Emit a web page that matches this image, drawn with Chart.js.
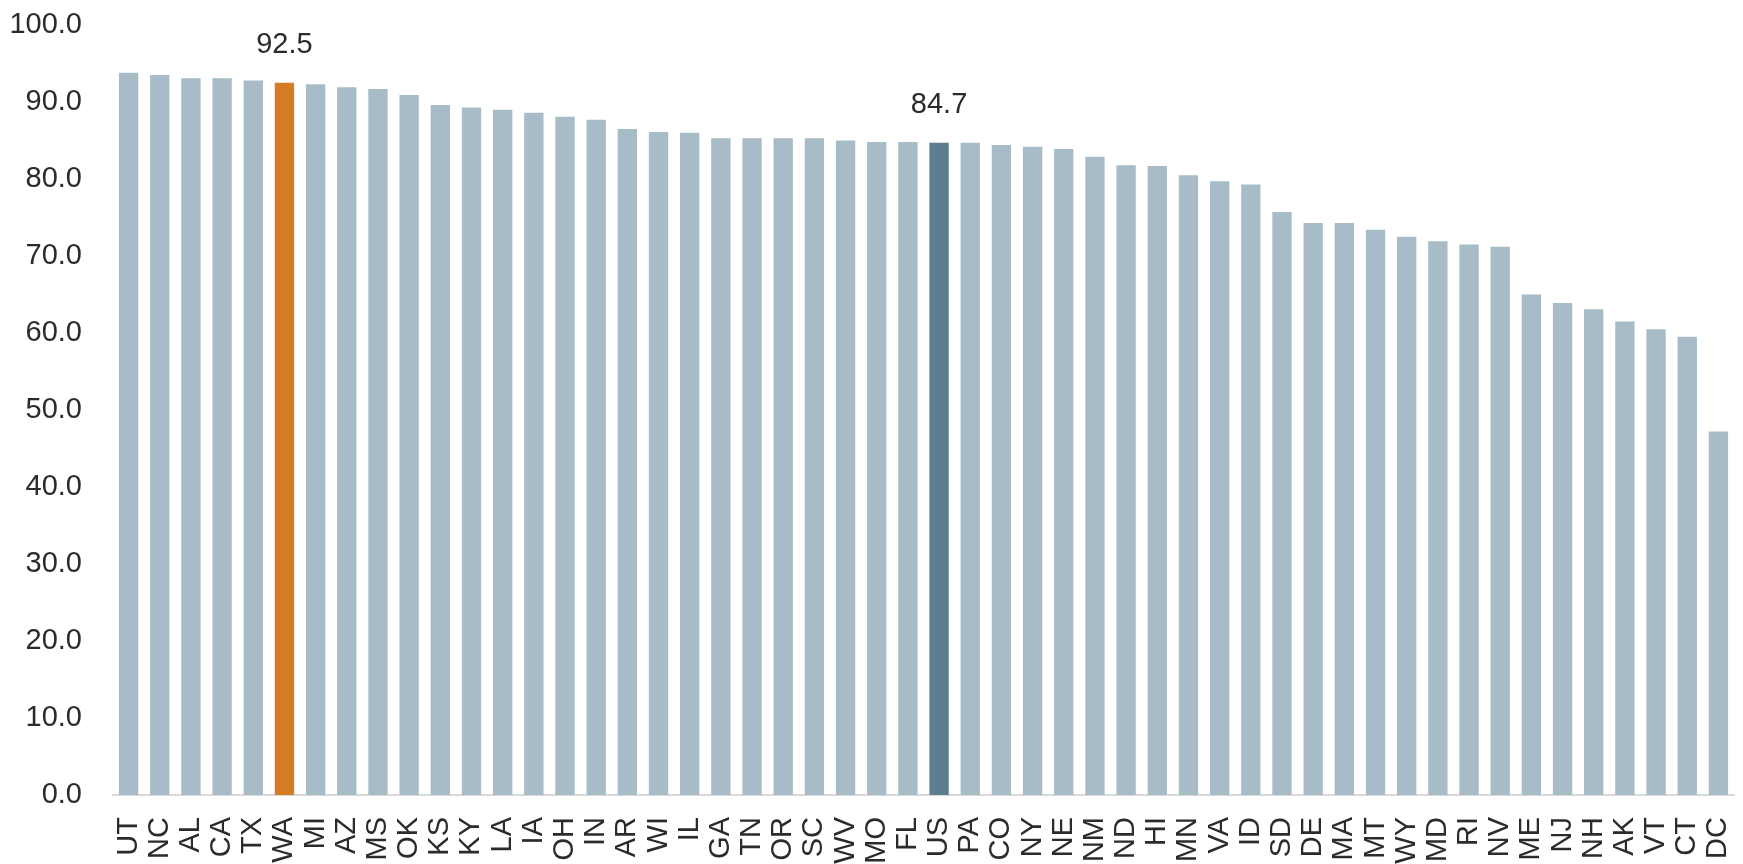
<!DOCTYPE html>
<html>
<head>
<meta charset="utf-8">
<script src="https://cdn.jsdelivr.net/npm/chart.js"></script>
<style>
  html, body { margin: 0; padding: 0; background: #fff; overflow: hidden; }
</style>
</head>
<body>
<canvas id="chart" width="1743" height="864"></canvas>
<script>
var states = ['UT','NC','AL','CA','TX','WA','MI','AZ','MS','OK','KS','KY','LA','IA','OH','IN','AR','WI','IL','GA','TN','OR','SC','WV','MO','FL','US','PA','CO','NY','NE','NM','ND','HI','MN','VA','ID','SD','DE','MA','MT','WY','MD','RI','NV','ME','NJ','NH','AK','VT','CT','DC'];
var values = [93.8,93.5,93.1,93.1,92.8,92.5,92.3,91.9,91.7,90.9,89.6,89.3,89.0,88.6,88.1,87.7,86.5,86.1,86.0,85.3,85.3,85.3,85.3,85.0,84.8,84.8,84.7,84.7,84.4,84.2,83.9,82.9,81.8,81.7,80.5,79.7,79.3,75.7,74.3,74.3,73.4,72.5,71.9,71.5,71.2,65.0,63.9,63.1,61.5,60.5,59.5,47.2];
var yTicks = [0, 10, 20, 30, 40, 50, 60, 70, 80, 90, 100];
var labelled = ['WA', 'US'];

var colors = states.map(function (s) {
    if (s === 'WA') return '#D57B23';   // highlighted state
    if (s === 'US') return '#5B7E91';   // national figure
    return '#A7BCC7';
});

var fontFamily = "'Liberation Sans', Arial, sans-serif";
var textColor = '#2b2b2b';

var ctx = document.getElementById('chart').getContext('2d');
var chart = new Chart(ctx, {
    type: 'bar',
    data: {
        labels: states,
        datasets: [{
            data: values,
            backgroundColor: colors,
            barPercentage: 0.62,
            categoryPercentage: 1.0
        }]
    },
    options: {
        responsive: false,
        animation: false,
        devicePixelRatio: 1,
        layout: {
            padding: { top: 25, right: 9, left: 0, bottom: 0 }
        },
        scales: {
            x: {
                border: { display: true, color: '#D9D9D9', width: 2 },
                grid: { display: false, drawTicks: false },
                ticks: {
                    color: textColor,
                    font: { family: fontFamily, size: 29 },
                    minRotation: 90,
                    maxRotation: 90,
                    autoSkip: false,
                    padding: 22
                },
                afterFit: function (scale) {
                    scale.height = 69;
                    scale.paddingLeft = 0;
                    scale.paddingRight = 0;
                }
            },
            y: {
                min: 0,
                max: 100,
                border: { display: false },
                grid: { display: false, drawTicks: false },
                afterBuildTicks: function (scale) {
                    scale.ticks = yTicks.map(function (v) { return { value: v }; });
                },
                ticks: {
                    color: textColor,
                    font: { family: fontFamily, size: 29 },
                    padding: 31,
                    callback: function (v) { return Number(v).toFixed(1); }
                },
                afterFit: function (scale) {
                    scale.width = 113;
                    scale.paddingTop = 0;
                    scale.paddingBottom = 0;
                }
            }
        },
        plugins: {
            legend: { display: false },
            tooltip: { enabled: false }
        }
    },
    plugins: [{
        id: 'barLabels',
        afterDatasetsDraw: function (chart) {
            var c = chart.ctx;
            var meta = chart.getDatasetMeta(0);
            c.save();
            c.fillStyle = textColor;
            c.font = '29px ' + fontFamily;
            c.textAlign = 'center';
            c.textBaseline = 'middle';
            meta.data.forEach(function (bar, i) {
                if (labelled.indexOf(states[i]) === -1) return;
                c.fillText(values[i].toFixed(1), bar.x, bar.y - 38);
            });
            c.restore();
        }
    }]
});
</script>
</body>
</html>
